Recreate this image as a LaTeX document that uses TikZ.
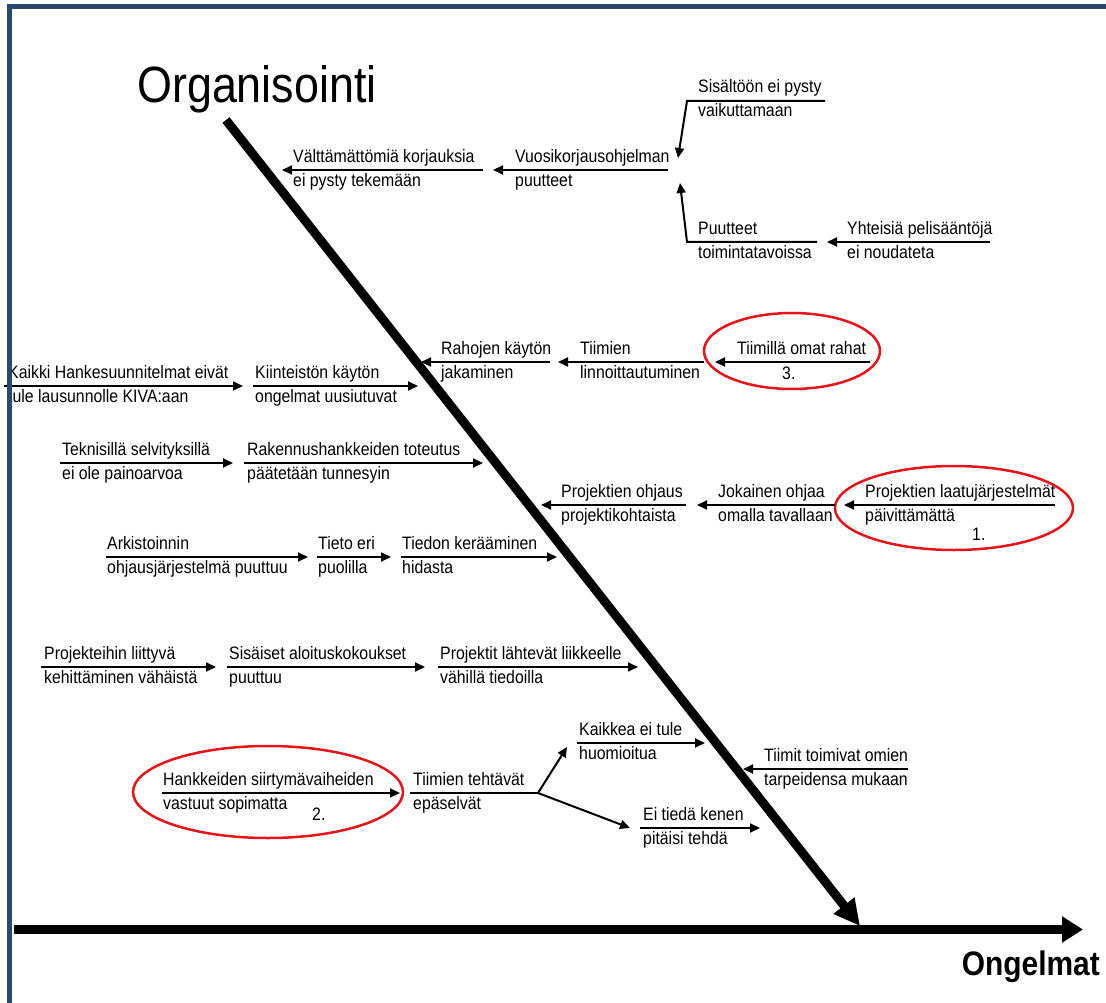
\documentclass[tikz,border=0pt]{standalone}
\usepackage{fontspec}
\setmainfont[FakeStretch=0.88]{Liberation Sans}
\usetikzlibrary{arrows.meta}
\definecolor{framecol}{HTML}{2C4770}
\definecolor{ringred}{HTML}{E8141B}

\begin{document}
\begin{tikzpicture}[x=1pt, y=-1pt,
    cause/.style={anchor=base west, align=left, inner sep=0pt, font=\fontsize{18}{24}\selectfont},
    arr/.style={-{Triangle[length=10pt,width=9pt]}, line width=2pt},
    bone/.style={-{Triangle[length=21pt,width=25pt]}, line width=9pt},
    ring/.style={draw=ringred, line width=2.5pt}
]
    \useasboundingbox (0,0) rectangle (1106,1003);

    % Spines
    \coordinate (tail) at (14,929.5);
    \coordinate (head) at (1083,929.5);
    \coordinate (org-s) at (226,120);
    \coordinate (org-e) at (860,926);
    \draw[bone] (tail) -- (head);
    \draw[bone, -{Triangle[length=26pt,width=25pt]}] (org-s) -- (org-e);

    % Titles
    \node[anchor=base west, inner sep=0pt, font=\fontsize{51}{60}\selectfont] (org) at (137,103) {Organisointi};
    \node[anchor=base east, inner sep=0pt, font=\fontsize{34}{40}\selectfont\bfseries] (ongelmat) at (1100,975) {Ongelmat};

    % Top cluster
    \coordinate (sis) at (825,101);
    \coordinate (sis-k) at (687,101);
    \node[cause] (sis-t) at (698,117) {Sisältöön ei pysty\\vaikuttamaan};
    \coordinate (puut) at (817,242);
    \coordinate (puut-k) at (687,242);
    \node[cause] (puut-t) at (698,258.5) {Puutteet\\toimintatavoissa};
    \coordinate (yht) at (990,242);
    \node[cause] (yht-t) at (847,258.5) {Yhteisiä pelisääntöjä\\ei noudateta};
    \coordinate (vuosi) at (668,170);
    \node[cause] (vuosi-t) at (515,186.5) {Vuosikorjausohjelman\\puutteet};
    \coordinate (valt) at (483,170);
    \coordinate (valt-e) at (282,170);
    \node[cause] (valt-t) at (293,186.5) {Välttämättömiä korjauksia\\ei pysty tekemään};

    \draw[arr] (sis) -- (sis-k) -- ([shift={(10,-12)}]vuosi);
    \draw[arr] (puut) -- (puut-k) -- ([shift={(12,13)}]vuosi);
    \draw[arr] (yht) -- ([xshift=10pt]puut);
    \draw[arr] (vuosi) -- ([xshift=10pt]valt);
    \draw[arr] (valt) -- (valt-e);

    % Money row
    \coordinate (raha) at (550,362);
    \coordinate (raha-e) at (421,362);
    \node[cause] (raha-t) at (441,378.5) {Rahojen käytön\\jakaminen};
    \coordinate (linn) at (704,362);
    \node[cause] (linn-t) at (580,378.5) {Tiimien\\linnoittautuminen};
    \coordinate (rahat) at (870,362);
    \node[cause] (rahat-t) at (737,354.5) {Tiimillä omat rahat};
    \node[cause] (nro3) at (782,379.5) {3.};
    \draw[ring] (792,351) ellipse [x radius=88pt, y radius=38pt];

    \draw[arr] (raha) -- (raha-e);
    \draw[arr] (linn) -- ([xshift=8pt]raha);
    \draw[arr] (rahat) -- ([xshift=11pt]linn);

    % Property row
    \coordinate (kaikki) at (4,386);
    \node[cause] (kaikki-t) at (8,402.5) {Kaikki Hankesuunnitelmat eivät\\tule lausunnolle KIVA:aan};
    \coordinate (kiint) at (253,386);
    \coordinate (kiint-e) at (418,386);
    \node[cause] (kiint-t) at (255,402.5) {Kiinteistön käytön\\ongelmat uusiutuvat};

    \draw[arr] (kaikki) -- ([xshift=-10pt]kiint);
    \draw[arr] (kiint) -- (kiint-e);

    % Technical row
    \coordinate (tekn) at (60,463);
    \node[cause] (tekn-t) at (62,479.5) {Teknisillä selvityksillä\\ei ole painoarvoa};
    \coordinate (rak) at (244,463);
    \coordinate (rak-e) at (483,463);
    \node[cause] (rak-t) at (247,479.5) {Rakennushankkeiden toteutus\\päätetään tunnesyin};

    \draw[arr] (tekn) -- ([xshift=-11pt]rak);
    \draw[arr] (rak) -- (rak-e);

    % Project steering row
    \coordinate (ohj) at (686,505);
    \coordinate (ohj-e) at (541,505);
    \node[cause] (ohj-t) at (561,521.5) {Projektien ohjaus\\projektikohtaista};
    \coordinate (jok) at (835,505);
    \node[cause] (jok-t) at (718,521.5) {Jokainen ohjaa\\omalla tavallaan};
    \coordinate (laatu) at (1055,505);
    \node[cause] (laatu-t) at (865,521.5) {Projektien laatujärjestelmät\\päivittämättä};
    \node[cause] (nro1) at (972,540) {1.};
    \draw[ring] (954,508) ellipse [x radius=119pt, y radius=42pt];

    \draw[arr] (ohj) -- (ohj-e);
    \draw[arr] (jok) -- ([xshift=11pt]ohj);
    \draw[arr] (laatu) -- ([xshift=9pt]jok);

    % Archive row
    \coordinate (ark) at (106,557);
    \node[cause] (ark-t) at (107,573.5) {Arkistoinnin\\ohjausjärjestelmä puuttuu};
    \coordinate (tieto) at (317,557);
    \node[cause] (tieto-t) at (318,573.5) {Tieto eri\\puolilla};
    \coordinate (tiedon) at (401,557);
    \coordinate (tiedon-e) at (557,557);
    \node[cause] (tiedon-t) at (402,573.5) {Tiedon kerääminen\\hidasta};

    \draw[arr] (ark) -- ([xshift=-9pt]tieto);
    \draw[arr] (tieto) -- ([xshift=-10pt]tiedon);
    \draw[arr] (tiedon) -- (tiedon-e);

    % Start-up row
    \coordinate (kehit) at (41,667);
    \node[cause] (kehit-t) at (44,683.5) {Projekteihin liittyvä\\kehittäminen vähäistä};
    \coordinate (aloit) at (227,667);
    \node[cause] (aloit-t) at (229,683.5) {Sisäiset aloituskokoukset\\puuttuu};
    \coordinate (liik) at (438,667);
    \coordinate (liik-e) at (638,667);
    \node[cause] (liik-t) at (440,683.5) {Projektit lähtevät liikkeelle\\vähillä tiedoilla};

    \draw[arr] (kehit) -- ([xshift=-11pt]aloit);
    \draw[arr] (aloit) -- ([xshift=-13pt]liik);
    \draw[arr] (liik) -- (liik-e);

    % Task row
    \coordinate (hank) at (162,793);
    \node[cause] (hank-t) at (163,809.5) {Hankkeiden siirtymävaiheiden\\vastuut sopimatta};
    \node[cause] (nro2) at (312,820) {2.};
    \draw[ring] (268,792) ellipse [x radius=135pt, y radius=46pt];
    \coordinate (teht) at (410,793);
    \coordinate (haara) at (538,793);
    \node[cause] (teht-t) at (413,809.5) {Tiimien tehtävät\\epäselvät};
    \coordinate (huom) at (577,743);
    \coordinate (huom-e) at (705,743);
    \node[cause] (huom-t) at (579,759.5) {Kaikkea ei tule\\huomioitua};
    \coordinate (tieda) at (640,828);
    \coordinate (tieda-e) at (760,828);
    \node[cause] (tieda-t) at (643,844.5) {Ei tiedä kenen\\pitäisi tehdä};
    \coordinate (omien) at (908,769);
    \coordinate (omien-e) at (743,769);
    \node[cause] (omien-t) at (764,785.5) {Tiimit toimivat omien\\tarpeidensa mukaan};

    \draw[arr] (hank) -- ([xshift=-10pt]teht);
    \draw[line width=2pt] (teht) -- (haara);
    \draw[arr] (haara) -- ([shift={(-10,4)}]huom);
    \draw[arr] (haara) -- ([xshift=-10pt]tieda);
    \draw[arr] (huom) -- (huom-e);
    \draw[arr] (tieda) -- (tieda-e);
    \draw[arr] (omien) -- (omien-e);

    % Frame
    \fill[framecol] (7,4) rectangle (1106,9);
    \fill[framecol] (7,4) rectangle (12,1003);
\end{tikzpicture}
\end{document}
